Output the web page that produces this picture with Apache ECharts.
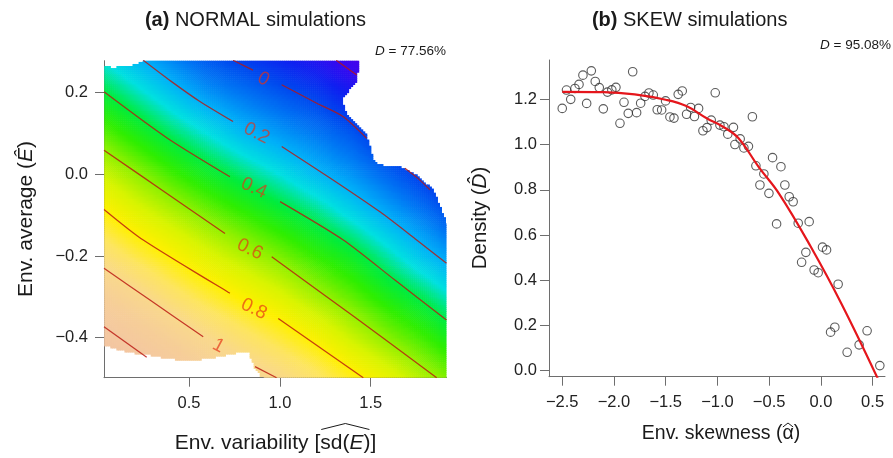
<!DOCTYPE html>
<html><head><meta charset="utf-8">
<script src="https://cdn.jsdelivr.net/npm/echarts@6/dist/echarts.min.js"></script>
<style>html,body{margin:0;padding:0;background:#fff}#c{width:893px;height:458px}</style>
</head><body><div id="c"></div>
<script>
// ================= DATA =================
// Panel (a): fitted density surface on a grid
const gridX = [0.0, 0.2, 0.4, 0.6, 0.8, 1.0, 1.2, 1.4, 1.6, 1.8, 2.0];
const gridY = [-0.5, -0.4, -0.3, -0.2, -0.1, 0.0, 0.1, 0.2, 0.3];
const surface = [ // rows follow gridY (bottom -> top), columns follow gridX
  [1.39, 1.30, 1.21, 1.13, 1.06, 1.00, 0.92, 0.83, 0.74, 0.64, 0.55],
  [1.25, 1.16, 1.08, 1.00, 0.93, 0.86, 0.78, 0.68, 0.59, 0.51, 0.42],
  [1.11, 1.03, 0.94, 0.86, 0.79, 0.72, 0.63, 0.55, 0.46, 0.38, 0.28],
  [0.97, 0.88, 0.80, 0.72, 0.65, 0.58, 0.50, 0.43, 0.33, 0.23, 0.14],
  [0.83, 0.74, 0.66, 0.58, 0.51, 0.44, 0.37, 0.28, 0.19, 0.10, -0.01],
  [0.70, 0.61, 0.52, 0.44, 0.37, 0.30, 0.22, 0.15, 0.06, -0.04, -0.15],
  [0.56, 0.47, 0.38, 0.30, 0.22, 0.16, 0.10, 0.03, -0.08, -0.18, -0.29],
  [0.42, 0.33, 0.24, 0.15, 0.09, 0.03, -0.03, -0.12, -0.22, -0.33, -0.44],
  [0.28, 0.19, 0.10, 0.01, -0.05, -0.11, -0.18, -0.27, -0.36, -0.47, -0.58]
];
// Region covered by the simulations (outside is left blank)
const hullTopX = [0.032, 0.092, 0.193, 0.221, 0.248];
const hullTopY = [0.263, 0.262, 0.268, 0.272, 0.279];
const hullBottomX = [0.032, 0.065, 0.120, 0.192, 0.285, 0.377, 0.467, 0.561, 0.652, 0.744, 0.799, 0.826, 0.835, 0.863, 0.891, 0.909];
const hullBottomY = [-0.418, -0.422, -0.430, -0.437, -0.442, -0.450, -0.455, -0.453, -0.447, -0.438, -0.434, -0.432, -0.447, -0.475, -0.491, -0.499];
const hullRightY = [-0.119, -0.079, -0.038, -0.002, 0.019, 0.023, 0.035, 0.096, 0.145, 0.182, 0.231, 0.279];
const hullRightX = [1.918, 1.881, 1.844, 1.753, 1.661, 1.551, 1.514, 1.478, 1.368, 1.340, 1.423, 1.435];

// Contour lines (segments are split where the labels sit)
const contourLevels = [-0.2, 0, 0.2, 0.4, 0.6, 0.8, 1.0, 1.2];
const contourPaths = [
  [[[1.31, 0.279], [1.423, 0.243]]],
  [[[0.742, 0.279], [0.852, 0.255]],
   [[1.010, 0.219], [1.203, 0.174], [1.349, 0.141], [1.478, 0.088]],
   [[1.688, 0.015], [1.76, -0.010], [1.826, -0.038]]],
  [[[0.248, 0.279], [0.40, 0.228], [0.560, 0.178], [0.742, 0.129]],
   [[1.010, 0.068], [1.276, -0.009], [1.551, -0.092], [1.753, -0.161], [1.917, -0.218]]],
  [[[0.032, 0.202], [0.379, 0.089], [0.725, -0.006]],
   [[1.001, -0.067], [1.349, -0.161], [1.633, -0.259], [1.917, -0.357]]],
  [[[0.032, 0.059], [0.368, -0.044], [0.698, -0.145]],
   [[0.955, -0.202], [1.413, -0.350], [1.863, -0.498]]],
  [[[0.032, -0.086], [0.248, -0.161], [0.725, -0.291]],
   [[0.991, -0.353], [1.459, -0.498]]],
  [[[0.032, -0.230], [0.285, -0.308], [0.578, -0.398]],
   [[0.863, -0.471], [0.982, -0.498]]],
  [[[0.032, -0.373], [0.267, -0.448]]]
];
const contourLabelText = ['0', '0.2', '0.4', '0.6', '0.8', '1'];
const contourLabelX = [0.909, 0.872, 0.857, 0.835, 0.857, 0.661];
const contourLabelY = [0.233, 0.100, -0.034, -0.184, -0.330, -0.420];
const contourLabelAngle = [28, 27, 25, 26, 26, 28];

const aTicksX = [0.5, 1.0, 1.5];
const aTicksY = [-0.4, -0.2, 0.0, 0.2];

// Panel (b): simulations
const skewness = [-2.500, -2.459, -2.418, -2.377, -2.338, -2.300, -2.264, -2.219, -2.181, -2.142,
  -2.103, -2.063, -2.021, -1.981, -1.942, -1.903, -1.862, -1.819, -1.781, -1.742,
  -1.700, -1.662, -1.620, -1.582, -1.539, -1.501, -1.459, -1.420, -1.379, -1.340,
  -1.298, -1.259, -1.222, -1.182, -1.140, -1.101, -1.060, -1.021, -0.976, -0.937,
  -0.900, -0.845, -0.831, -0.780, -0.744, -0.700, -0.662, -0.628, -0.589, -0.551,
  -0.502, -0.467, -0.428, -0.386, -0.348, -0.306, -0.268, -0.219, -0.186, -0.145,
  -0.113, -0.065, -0.026, 0.016, 0.055, 0.094, 0.135, 0.167, 0.254, 0.370, 0.447, 0.570];
const density = [1.160, 1.241, 1.200, 1.248, 1.266, 1.307, 1.182, 1.326, 1.279, 1.252,
  1.158, 1.232, 1.242, 1.253, 1.094, 1.187, 1.138, 1.322, 1.141, 1.183,
  1.213, 1.228, 1.219, 1.154, 1.153, 1.193, 1.122, 1.117, 1.222, 1.237,
  1.134, 1.164, 1.124, 1.160, 1.061, 1.075, 1.108, 1.229, 1.086, 1.079,
  1.046, 1.076, 1.000, 1.025, 0.985, 0.992, 1.123, 0.906, 0.821, 0.870,
  0.784, 0.942, 0.649, 0.902, 0.821, 0.769, 0.747, 0.652, 0.479, 0.523,
  0.659, 0.445, 0.433, 0.546, 0.534, 0.170, 0.192, 0.382, 0.081, 0.114, 0.176, 0.022];
const fitX = [-2.5, -2.1, -1.8, -1.5, -1.3, -1.1, -0.95, -0.8, -0.6, -0.4, -0.1, 0.2, 0.55];
const fitY = [1.233, 1.232, 1.222, 1.198, 1.17, 1.115, 1.08, 1.03, 0.90, 0.78, 0.55, 0.295, -0.035];
const bTicksX = [-2.5, -2.0, -1.5, -1.0, -0.5, 0.0, 0.5];
const bTicksY = [0.0, 0.2, 0.4, 0.6, 0.8, 1.0, 1.2];

// ================= STYLE / LAYOUT =================
const F = '"Liberation Sans", Arial, Helvetica, sans-serif';
const aX = [0.032, 1.917], aY = [-0.498, 0.278];
const bX = [-2.628, 0.62], bY = [-0.027, 1.374];
const colorStops = ['#6000E0', '#5000E8', '#3808F0', '#1020F0', '#0048EE', '#0078F4', '#00B0F8',
  '#00E0E0', '#00EC40', '#30EE00', '#90F000', '#D8F400', '#FFF000', '#FDE560', '#F9D88C',
  '#F6CE98', '#F4C8A0', '#F2C2A0', '#F0BC9C']; // value -0.4 .. 1.4
const cMin = -0.4, cMax = 1.4;
function hexRgb(h) { return [parseInt(h.substr(1, 2), 16), parseInt(h.substr(3, 2), 16), parseInt(h.substr(5, 2), 16)]; }
const stopRgb = colorStops.map(hexRgb);
const LUT = [];
for (let k = 0; k <= 360; k++) {
  const t = k / 360 * (stopRgb.length - 1);
  const i0 = Math.min(Math.floor(t), stopRgb.length - 2), f = t - i0;
  const c = stopRgb[i0].map((v, q) => Math.round(v + (stopRgb[i0 + 1][q] - v) * f));
  LUT.push('rgb(' + c.join(',') + ')');
}
function colorOf(v) {
  let t = (v - cMin) / (cMax - cMin); t = Math.max(0, Math.min(1, t));
  return LUT[Math.round(t * 360)];
}
function interp(xs, ys, x) {
  if (x <= xs[0]) return ys[0];
  if (x >= xs[xs.length - 1]) return ys[ys.length - 1];
  for (let k = 1; k < xs.length; k++) if (x <= xs[k]) {
    const t = (x - xs[k - 1]) / (xs[k] - xs[k - 1]);
    return ys[k - 1] + t * (ys[k] - ys[k - 1]);
  }
}
function inHull(x, y) {
  if (x <= hullTopX[hullTopX.length - 1] && y > interp(hullTopX, hullTopY, x)) return false;
  if (x <= hullBottomX[hullBottomX.length - 1] && y < interp(hullBottomX, hullBottomY, x)) return false;
  if (y >= hullRightY[0] && x > interp(hullRightY, hullRightX, y)) return false;
  return true;
}

// cells of the read grid, shaded smoothly between their corner values
const cellData = [];
for (let j = 0; j < gridY.length - 1; j++)
  for (let i = 0; i < gridX.length - 1; i++)
    cellData.push([(gridX[i] + gridX[i + 1]) / 2, (gridY[j] + gridY[j + 1]) / 2, i, j]);

function renderCell(params, api) {
  const i = api.value(2), j = api.value(3);
  const x0 = gridX[i], x1 = gridX[i + 1], y0 = gridY[j], y1 = gridY[j + 1];
  const v00 = surface[j][i], v10 = surface[j][i + 1], v01 = surface[j + 1][i], v11 = surface[j + 1][i + 1];
  const pA = api.coord([x0, y1]), pB = api.coord([x1, y0]);
  const L = api.coord([aX[0], aY[1]]), R = api.coord([aX[1], aY[0]]);
  const W = pB[0] - pA[0], H = pB[1] - pA[1];
  const nx = Math.max(1, Math.round(W / 2)), ny = Math.max(1, Math.round(H / 2));
  const children = [];
  for (let a = 0; a < nx; a++) for (let b = 0; b < ny; b++) {
    const fx = (a + 0.5) / nx, fy = (b + 0.5) / ny;
    const x = x0 + fx * (x1 - x0), y = y1 - fy * (y1 - y0);
    if (x < aX[0] || x > aX[1] || y < aY[0] || y > aY[1]) continue;
    if (!inHull(x, y)) continue;
    const ty = 1 - fy;
    const v = v00 * (1 - fx) * (1 - ty) + v10 * fx * (1 - ty) + v01 * (1 - fx) * ty + v11 * fx * ty;
    let rx0 = pA[0] + a * W / nx, ry0 = pA[1] + b * H / ny;
    let rx1 = rx0 + W / nx + 0.6, ry1 = ry0 + H / ny + 0.6;
    rx0 = Math.max(rx0, L[0]); ry0 = Math.max(ry0, L[1]);
    rx1 = Math.min(rx1, R[0]); ry1 = Math.min(ry1, R[1]);
    if (rx1 <= rx0 || ry1 <= ry0) continue;
    children.push({ type: 'rect', silent: true, shape: { x: rx0, y: ry0, width: rx1 - rx0, height: ry1 - ry0 }, style: { fill: colorOf(v) } });
  }
  return { type: 'group', children };
}

function fmt(v) { const s = Math.abs(v).toFixed(1); return (v < -1e-9 ? '\u2212' : '') + s; }
const axisCol = '#6e6e6e';
function mkAxis(gi, rng, ticks, margin, extra) {
  return Object.assign({
    gridIndex: gi, type: 'value', min: rng[0], max: rng[1],
    axisLine: { show: true, onZero: false, lineStyle: { color: axisCol, width: 1 } },
    axisTick: { show: true, customValues: ticks, length: 9, inside: false, lineStyle: { color: axisCol, width: 1 } },
    axisLabel: { show: true, customValues: ticks, formatter: fmt, margin: margin, fontSize: 16.5, color: '#222', fontFamily: F },
    splitLine: { show: false }
  }, extra || {});
}

const series = [];
series.push({ type: 'custom', xAxisIndex: 0, yAxisIndex: 0, data: cellData, encode: { x: 0, y: 1 },
  renderItem: renderCell, silent: true, z: 1 });
contourPaths.forEach((segs, li) => {
  segs.forEach(seg => series.push({
    type: 'line', xAxisIndex: 0, yAxisIndex: 0, data: seg, symbol: 'none', smooth: 0.25, silent: true, z: 3,
    lineStyle: { color: 'rgba(185,22,16,0.82)', width: 1.25 }, name: 'level ' + contourLevels[li]
  }));
});
series.push({ type: 'scatter', xAxisIndex: 0, yAxisIndex: 0, symbolSize: 2, silent: true, z: 4,
  itemStyle: { color: 'rgba(0,0,0,0)' },
  data: contourLabelText.map((t, k) => ({ value: [contourLabelX[k], contourLabelY[k]],
    label: { show: true, formatter: t, rotate: -contourLabelAngle[k] } })),
  label: { show: true, position: 'inside', fontSize: 19, fontFamily: F, color: 'rgba(228,50,22,0.85)' },
  labelLayout: { hideOverlap: false } });
series.push({ type: 'scatter', xAxisIndex: 1, yAxisIndex: 1, symbol: 'circle', symbolSize: 8.5, silent: true, z: 3,
  itemStyle: { color: 'rgba(0,0,0,0)', borderColor: '#333', borderWidth: 1.1 },
  data: skewness.map((x, k) => [x, density[k]]) });
series.push({ type: 'line', xAxisIndex: 1, yAxisIndex: 1, symbol: 'none', smooth: 0.4, silent: true, z: 4, clip: true,
  lineStyle: { color: '#E5161C', width: 2.2 }, data: fitX.map((x, k) => [x, fitY[k]]) });

// measure text for the hats
const mctx = document.createElement('canvas').getContext('2d');
function tw(s, font) { mctx.font = font; return mctx.measureText(s).width; }
const xtFont = 21;
const fN = xtFont + 'px "Liberation Sans"', fI = 'italic ' + xtFont + 'px "Liberation Sans"';
const preW = tw('Env. variability [', fN);
const sdW = tw('sd(', fN) + tw('E', fI) + tw(')', fN);
const totW = preW + sdW + tw(']', fN);
const xtCx = 275.5, xtCy = 443.5;
const hatL = xtCx - totW / 2 + preW + 1, hatR = hatL + sdW - 2;
// alpha hat (panel b x title)
const bFont = 19.5, fB = bFont + 'px "Liberation Sans"';
const bPre = tw('Env. skewness (', fB), bAl = tw('\u03B1', fB), bTot = tw('Env. skewness (\u03B1)', fB);
const bCx = 721, bCy = 433.5;
const alL = bCx - bTot / 2 + bPre, alR = alL + bAl;

function txt(text, x, y, size, align, opts) {
  return Object.assign({ type: 'text', x: x, y: y, silent: true, z: 10,
    style: { text: text, x: 0, y: 0, fontSize: size, fontFamily: F, fill: '#1a1a1a',
      align: align, textAlign: align, verticalAlign: 'middle', textVerticalAlign: 'middle',
      rich: { b: { fontWeight: 'bold', fontSize: size, fontFamily: F, fill: '#1a1a1a' },
              i: { fontStyle: 'italic', fontSize: size, fontFamily: F, fill: '#1a1a1a' },
              n: { fontSize: size, fontFamily: F, fill: '#1a1a1a' } } } }, opts || {});
}
function hat(l, r, yb, h) {
  return { type: 'polyline', silent: true, z: 10, shape: { points: [[l, yb], [(l + r) / 2, yb - h], [r, yb]] },
    style: { stroke: '#1a1a1a', lineWidth: 1, fill: null } };
}

const graphic = [
  txt('{b|(a)}{n| NORMAL simulations}', 255.5, 20.5, 20, 'center'),
  txt('{b|(b)}{n| SKEW simulations}', 689.7, 20.5, 20, 'center'),
  txt('{i|D}{n| = 77.56%}', 446, 51, 13.5, 'right'),
  txt('{i|D}{n| = 95.08%}', 891, 45, 13.5, 'right'),
  txt('{n|Env. variability [sd(}{i|E}{n|)]}', xtCx, xtCy, xtFont, 'center'),
  hat(hatL, hatR, 429.5, 6),
  txt('{n|Env. average (}{i|\u00CA}{n|)}', 26, 219, 21, 'center', { rotation: Math.PI / 2 }),
  txt('{n|Density (}{i|D\u0302}{n|)}', 480, 218, 20.5, 'center', { rotation: Math.PI / 2 }),
  txt('{n|Env. skewness (\u03B1)}', bCx, bCy, bFont, 'center'),
  hat(alL + 0.5, alR - 0.5, bCy - 6.5, 4)
];

const option = {
  animation: false,
  backgroundColor: '#fff',
  grid: [
    { left: 104, top: 60.7, width: 342.5, height: 317, containLabel: false },
    { left: 549, top: 60, width: 336, height: 316.7, containLabel: false }
  ],
  xAxis: [mkAxis(0, aX, aTicksX, 17), mkAxis(1, bX, bTicksX, 17)],
  yAxis: [mkAxis(0, aY, aTicksY, 16), mkAxis(1, bY, bTicksY, 12)],
  series: series,
  graphic: graphic
};
const chart = echarts.init(document.getElementById('c'), null, { renderer: 'canvas' });
chart.setOption(option);
</script></body></html>
